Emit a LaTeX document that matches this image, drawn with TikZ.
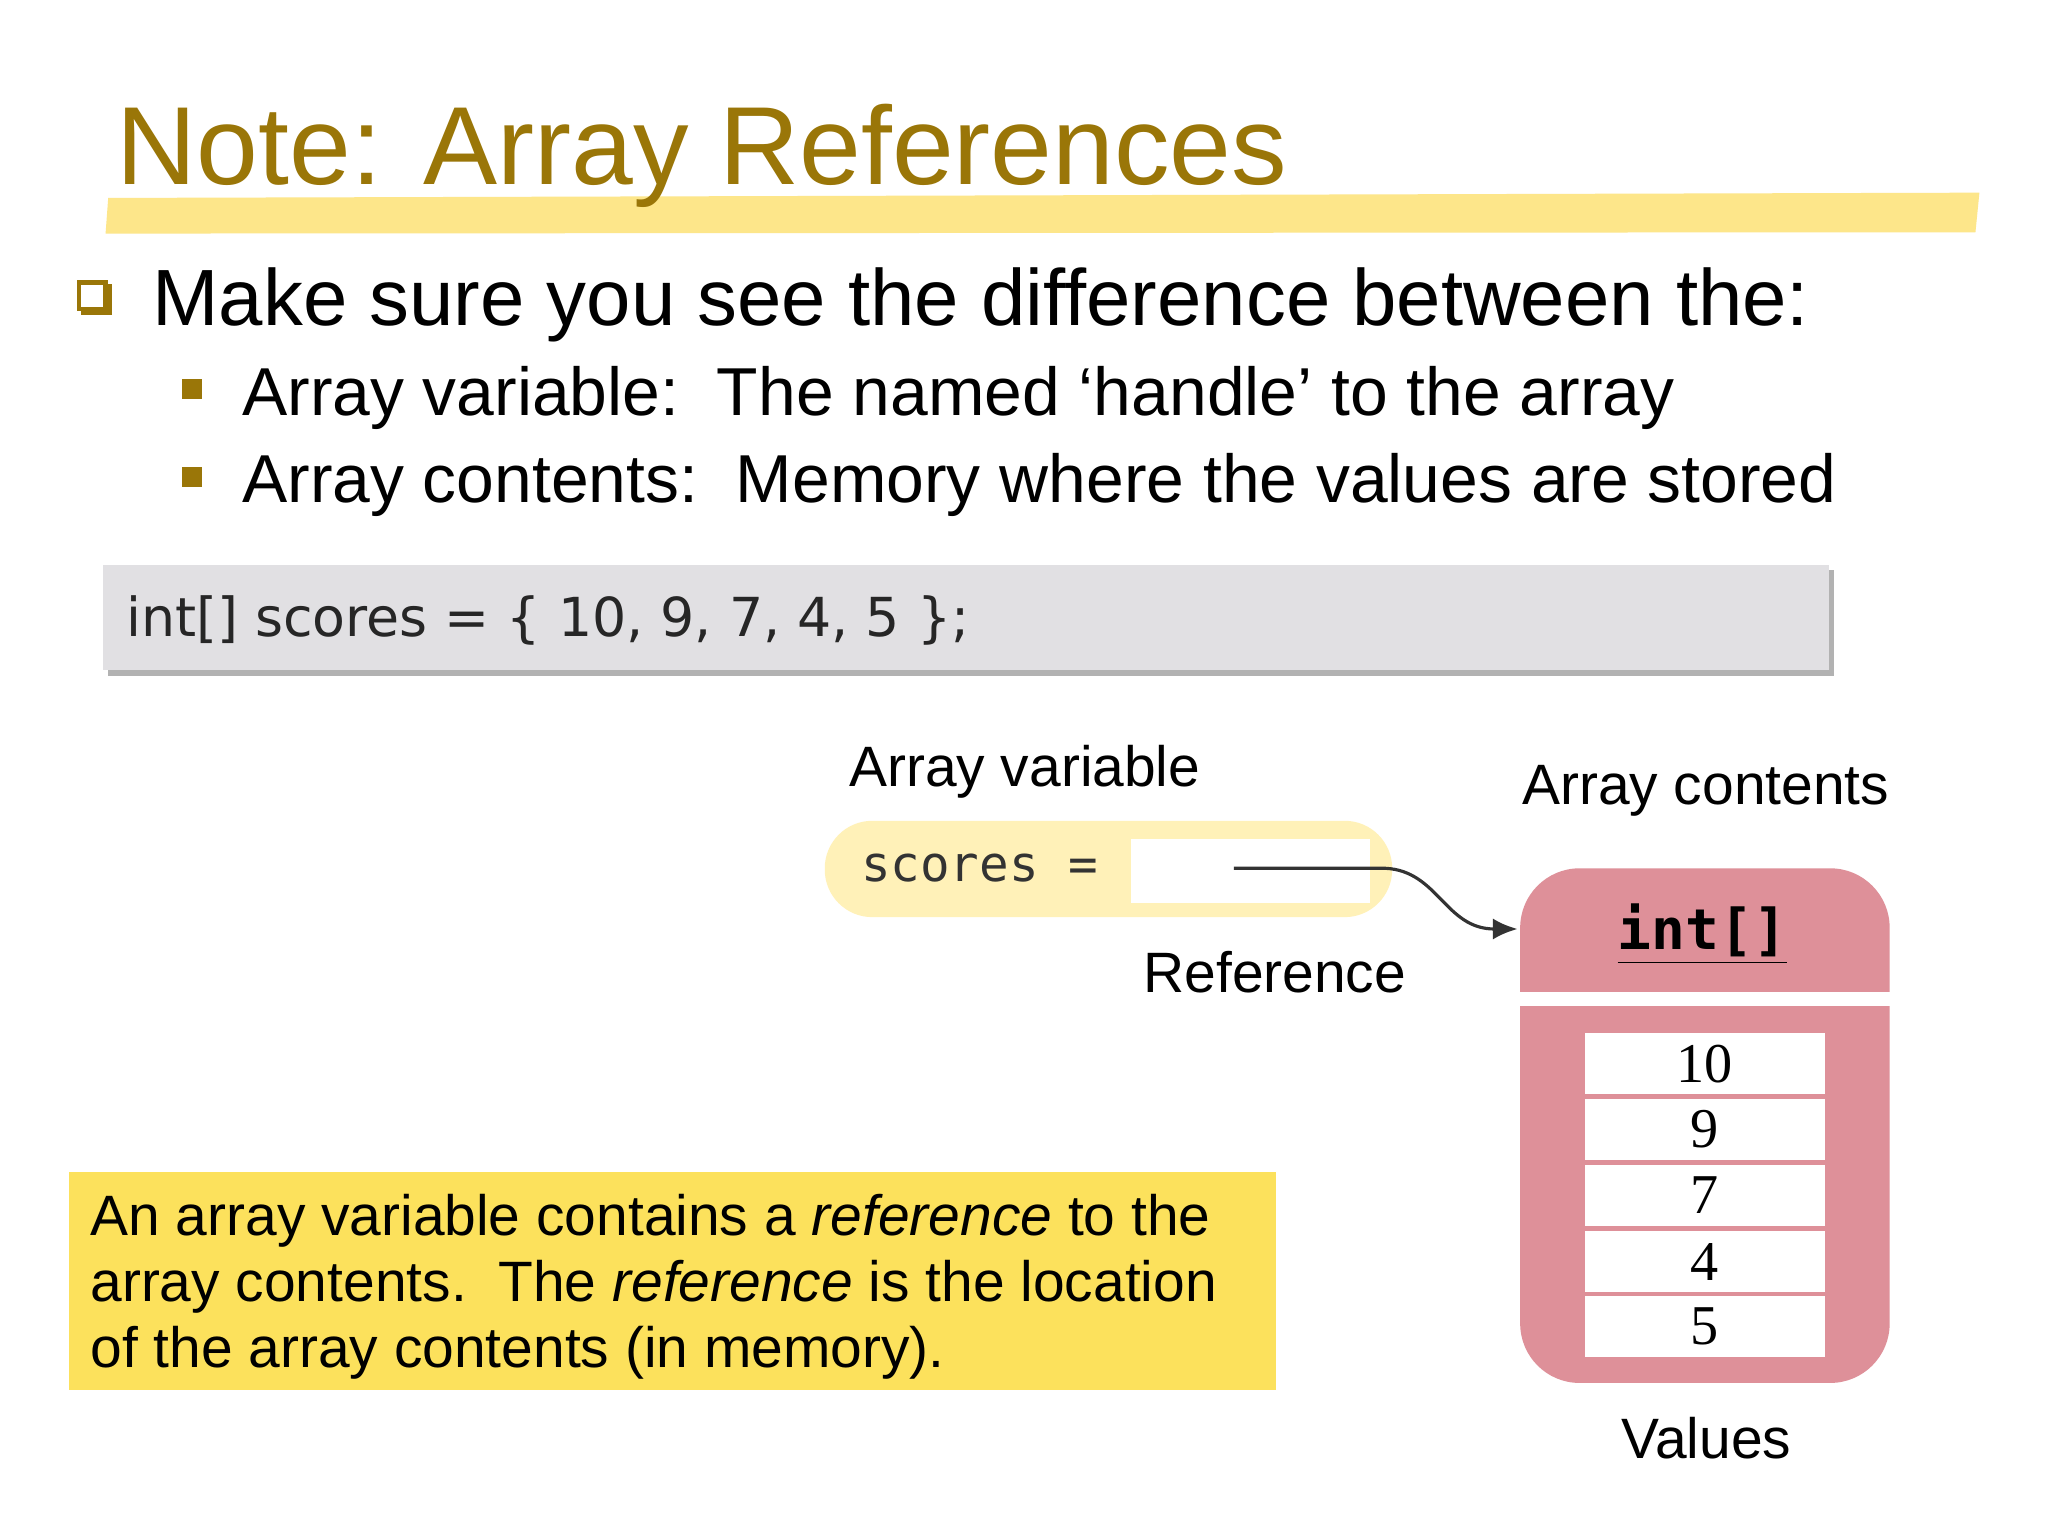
\documentclass[tikz,border=0pt]{standalone}
\usepackage{fontspec}
\setmainfont{Liberation Sans}
\setmonofont{DejaVu Sans Mono}
\newfontfamily\codefont{DejaVu Sans}
\newfontfamily\numfont{Liberation Serif}
\usetikzlibrary{shadows,arrows.meta}
\definecolor{titlegold}{HTML}{9A7608}
\definecolor{bandyel}{HTML}{FDE68A}
\definecolor{notebg}{HTML}{FCE15C}
\definecolor{pill}{HTML}{FFF1B8}
\definecolor{pinkbox}{HTML}{DE9099}
\definecolor{codebg}{HTML}{E1E0E3}
\tikzset{
  txt/.style={anchor=base west,inner sep=0pt},
  cell/.style={fill=white,minimum width=0.0132cm*182,minimum height=0.0132cm*46,inner sep=0pt,font=\numfont\fontsize{16pt}{16pt}\selectfont},
}
\begin{document}
\begin{tikzpicture}[x=0.0132cm,y=-0.0132cm]
\useasboundingbox (0,0) rectangle (1552,1164);
\fill[white] (0,0) rectangle (1552,1164);
% title
\fill[bandyel] (82,150) -- (1500,146) -- (1497,176) -- (80,177) -- cycle;
\node[txt,text=titlegold,font=\fontsize{31.6pt}{31.6pt}\selectfont] (title) at (88,140) {Note: Array References};
% bullets
\draw[titlegold,line width=1.2pt,fill=white] (60,214) rectangle (80,234);
\draw[titlegold,line width=1.2pt] (80,217) -- (83,217) -- (83,237) -- (63,237) -- (63,234);
\node[txt,font=\fontsize{22.7pt}{22.7pt}\selectfont] (b1) at (115,247) {Make sure you see the difference between the:};
\fill[titlegold] (138,287) rectangle (153,302);
\fill[titlegold] (138,354) rectangle (153,369);
\node[txt,font=\fontsize{19.3pt}{19.3pt}\selectfont] (b2) at (183,315) {Array variable:\ \ The named ‘handle’ to the array};
\node[txt,font=\fontsize{19.3pt}{19.3pt}\selectfont] (b3) at (183,381) {Array contents:\ \ Memory where the values are stored};
% code box
\fill[gray!60] (82,432) rectangle (1390,512);
\fill[codebg] (78,428) rectangle (1386,508);
\node[txt,font=\codefont\fontsize{15.3pt}{15.3pt}\selectfont,text=black!85] (code) at (95,482) {int[] scores = \{ 10, 9, 7, 4, 5 \};};
% array variable
\node[txt,font=\fontsize{16.2pt}{16.2pt}\selectfont] (avlab) at (643,596) {Array variable};
\fill[pill] (625,622) [rounded corners=0.0132cm*36] rectangle (1055,695);
\node[fill=white,minimum width=0.0132cm*181,minimum height=0.0132cm*48,inner sep=0pt] (refbox) at (947.5,660) {};
\node[txt,font=\ttfamily\fontsize{14pt}{14pt}\selectfont,text=black!80] (sc) at (652,668) {scores =};
\node[txt,font=\fontsize{16.2pt}{16.2pt}\selectfont] (reflab) at (866,752) {Reference};
\node[txt,font=\fontsize{16.2pt}{16.2pt}\selectfont] (aclab) at (1153,610) {Array contents};
% array contents
\fill[pinkbox,rounded corners=0.0132cm*45] (1152,658) rectangle (1432,1048);
\fill[white] (1152,752) rectangle (1432,762);
\node[font=\ttfamily\bfseries\fontsize{16pt}{16pt}\selectfont] (hdr) at (1290,708) {\underline{int[]}};
\node[cell] (c1) at (1292,806) {10};
\node[cell] (c2) at (1292,856) {9};
\node[cell] (c3) at (1292,906) {7};
\node[cell] (c4) at (1292,956) {4};
\node[cell] (c5) at (1292,1005) {5};
\node[txt,font=\fontsize{16.2pt}{16.2pt}\selectfont,anchor=base] (vallab) at (1293,1105) {Values};
% arrow
\coordinate (s) at (935,658);
\coordinate (e) at (1150,704);
\draw[black!80,line width=0.9pt,-{Latex[length=7pt,width=6pt]}] (s) -- (1050,658) .. controls (1090,660) and (1095,704) .. (e);
% note
\fill[notebg] (52,888) rectangle (967,1053);
\node[txt,font=\fontsize{16.2pt}{16.2pt}\selectfont] (n1) at (68,936) {An array variable contains a \emph{reference} to the};
\node[txt,font=\fontsize{16.2pt}{16.2pt}\selectfont] (n2) at (68,986) {array contents.\ \ The \emph{reference} is the location};
\node[txt,font=\fontsize{16.2pt}{16.2pt}\selectfont] (n3) at (68,1036) {of the array contents (in memory).};
\end{tikzpicture}
\end{document}
